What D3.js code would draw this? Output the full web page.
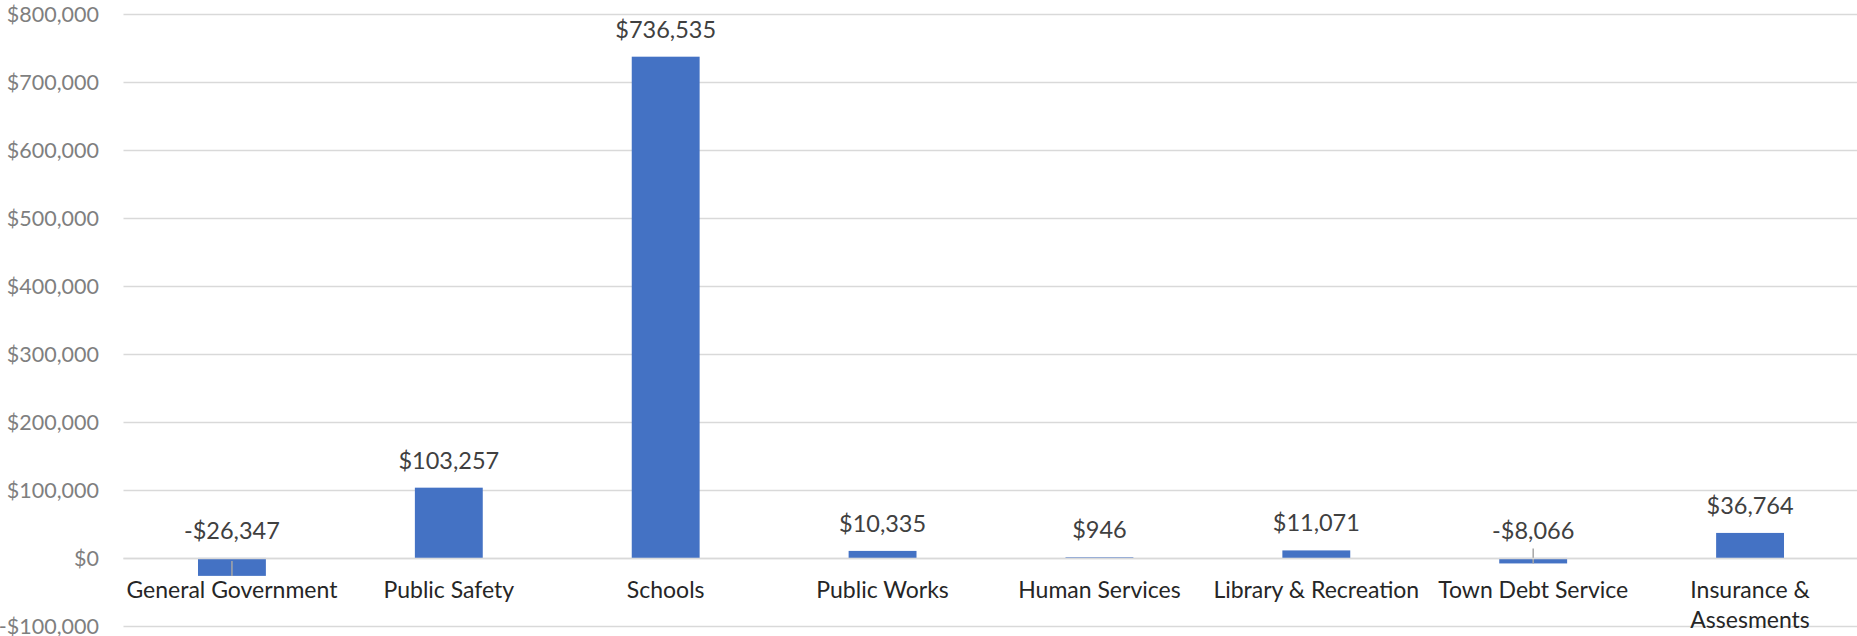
<!DOCTYPE html>
<html><head><meta charset="utf-8">
<script src="https://cdn.jsdelivr.net/npm/d3@7/dist/d3.min.js"></script>
<style>
html,body{margin:0;padding:0;background:#fff;}
svg{display:block;}
</style></head>
<body>
<svg id="chart" width="1857" height="636"></svg>
<script>
const categories = ["General Government","Public Safety","Schools","Public Works","Human Services","Library & Recreation","Town Debt Service","Insurance & Assesments"];
const values = [-26347, 103257, 736535, 10335, 946, 11071, -8066, 36764];
const yTicks = [-100000, 0, 100000, 200000, 300000, 400000, 500000, 600000, 700000, 800000];

const W = 1857, H = 636;
const svg = d3.select("#chart");
const left = 123.5, right = 1858.5;

const x = d3.scaleBand().domain(categories).range([left, right]).paddingInner(0.687).paddingOuter(0.3435);
const y = d3.scaleLinear().domain([-100000, 800000]).range([626, 13.5]);

const fmt = v => (v < 0 ? "-$" : "$") + d3.format(",")(Math.abs(v));

// gridlines
svg.append("g").selectAll("line").data(yTicks).join("line")
  .attr("x1", left).attr("x2", W)
  .attr("y1", d => Math.round(y(d)) + 0.5).attr("y2", d => Math.round(y(d)) + 0.5)
  .attr("stroke", "#d9d9d9").attr("stroke-width", 1.4);

// y axis labels
const yAxis = d3.axisLeft(y).tickValues(yTicks).tickSize(0).tickPadding(0).tickFormat(fmt);
const gy = svg.append("g").attr("transform", "translate(99,0)").call(yAxis);
gy.select(".domain").remove();
gy.selectAll("text").attr("font-family", "Lato").attr("font-size", 21.5).attr("fill", "#7f7f7f").attr("dy", "0.35em");

// bars
svg.append("g").selectAll("rect").data(values).join("rect")
  .attr("x", (d, i) => x(categories[i]))
  .attr("width", x.bandwidth())
  .attr("y", d => y(Math.max(0, d)))
  .attr("height", d => Math.abs(y(d) - y(0)))
  .attr("fill", "#4472c4");

// leader ticks on negative bars
svg.append("g").selectAll("line").data(values.map((v, i) => ({v, c: categories[i]})).filter(d => d.v < 0)).join("line")
  .attr("x1", d => x(d.c) + x.bandwidth() / 2).attr("x2", d => x(d.c) + x.bandwidth() / 2)
  .attr("y1", d => y(d.v) - 15).attr("y2", d => y(d.v))
  .attr("stroke", "#a6a6a6").attr("stroke-width", 1.5);

// value labels
svg.append("g").selectAll("text").data(values).join("text")
  .attr("x", (d, i) => x(categories[i]) + x.bandwidth() / 2)
  .attr("y", d => y(Math.max(0, d)) - 19)
  .attr("text-anchor", "middle")
  .attr("font-family", "Lato").attr("font-size", 23.5)
  .attr("fill", "#404040")
  .text(fmt);

// category labels
const xAxis = d3.axisBottom(x).tickSize(0).tickPadding(0);
const gx = svg.append("g").attr("transform", `translate(0,${y(0)})`).call(xAxis);
gx.select(".domain").attr("stroke", "#d9d9d9").attr("stroke-width", 1.4).attr("d", `M${left},0.5H${W}`);
gx.selectAll("text").text(null).attr("dy", null)
  .attr("font-family", "Lato").attr("font-size", 23).attr("fill", "#262626")
  .each(function(d) {
    const t = d3.select(this);
    const lines = d === "Insurance & Assesments" ? ["Insurance &", "Assesments"] : [d];
    lines.forEach((ln, k) => {
      t.append("tspan").attr("x", 0).attr("y", 40 + k * 30).text(ln);
    });
  });
</script>
</body></html>
